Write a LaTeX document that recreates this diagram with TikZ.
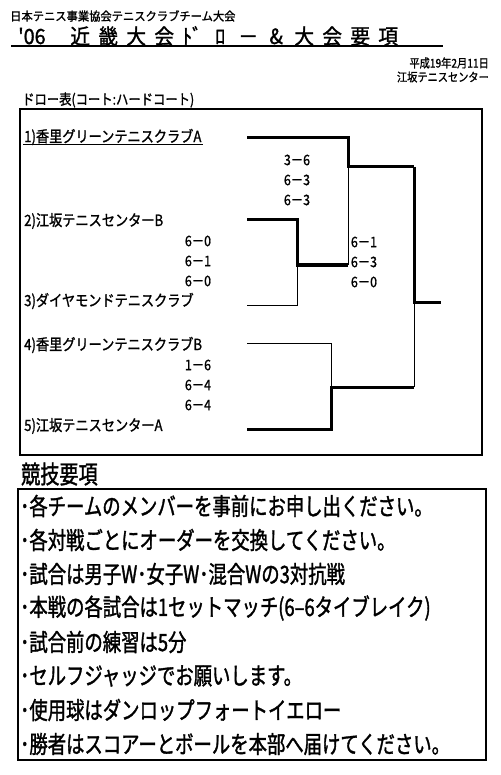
\documentclass[tikz,border=0pt]{standalone}
\usepackage{fontspec}
\setmainfont{Noto Sans CJK JP}
\newfontfamily\jpn[FakeStretch=0.94,FakeBold=1.4]{Noto Sans CJK JP}
\newfontfamily\jpc[FakeStretch=0.85,FakeBold=1.2]{Noto Sans CJK JP}
\newfontfamily\jpr[FakeStretch=0.765,FakeBold=1.4]{Noto Sans CJK JP}
\newcommand{\tc}[1]{\makebox[28pt]{#1}}

\tikzset{
  win/.style={line width=3pt},
  lose/.style={line width=1pt},
  team/.style={anchor=west, inner sep=1pt, font=\jpc\fontsize{15.5}{16}\selectfont},
  score/.style={inner sep=0pt, align=center, font=\jpc\fontsize{14.5}{20}\selectfont},
  rule/.style={anchor=west, inner sep=0pt, font=\jpr\fontsize{24}{26}\selectfont},
}

\begin{document}
\begin{tikzpicture}[x=1pt,y=-1pt]
\useasboundingbox (0,0) rectangle (500,775);

% Heading
\node[anchor=west, inner sep=0pt, font=\jpn\fontsize{12}{13}\selectfont] (org) at (10,16) {日本テニス事業協会テニスクラブチーム大会};
\node[anchor=west, inner sep=0pt, font=\jpn\fontsize{21}{22}\selectfont] (title) at (18,36)
  {\makebox[48pt][l]{'06}\tc{近}\tc{畿}\tc{大}\tc{会}\tc{ﾄﾞ}\tc{ﾛ}\tc{－}\tc{\&}\tc{大}\tc{会}\tc{要}\tc{項}};
\draw[line width=1.5pt] (11,46) -- (443,46);
\node[anchor=east, inner sep=0pt, font=\jpc\fontsize{12}{13}\selectfont] (date) at (489,63) {平成19年2月11日};
\node[anchor=east, inner sep=0pt, font=\jpc\fontsize{12}{13}\selectfont] (place) at (489,77) {江坂テニスセンター};

% Draw
\node[anchor=west, inner sep=0pt, font=\jpc\fontsize{14.5}{15}\selectfont] (drawtitle) at (22,100) {ドロー表(コート:ハードコート)};
\draw[line width=1.3pt] (20,109) rectangle (482,455);

\node[team] (n1) at (23,137) {1)香里グリーンテニスクラブA};
\draw[line width=1.2pt] ([yshift=-2.5pt]n1.base west) -- ([yshift=-2.5pt]n1.base east);
\node[team] (n2) at (23,221) {2)江坂テニスセンターB};
\node[team] (n3) at (23,301) {3)ダイヤモンドテニスクラブ};
\node[team] (n4) at (23,345) {4)香里グリーンテニスクラブB};
\node[team] (n5) at (23,426) {5)江坂テニスセンターA};

% Bracket points
\coordinate (s1) at (247,138);
\coordinate (s2) at (247,220);
\coordinate (s3) at (247,305);
\coordinate (s4) at (247,343);
\coordinate (s5) at (247,429);
\coordinate (m23) at (297,265);
\coordinate (m45) at (331,387);
\coordinate (semi) at (348,167);
\coordinate (fin) at (414,302);
\coordinate (champ) at (441,302);

% 2 vs 3
\draw[win] (s2) -| (m23) -- (semi |- m23);
\draw[lose] (s3) -| (m23);
% 4 vs 5
\draw[lose] (s4) -| (m45);
\draw[win] (s5) -| (m45) -- (fin |- m45);
% 1 vs winner
\draw[win] (s1) -| (semi) -- (fin |- semi);
\draw[lose] (semi) -- (semi |- m23);
% final
\draw[win] (fin |- semi) -- (fin) -- (champ);
\draw[lose] (fin) -- (fin |- m45);

% Scores
\node[score] (sc1) at (297,180) {3－6\\6－3\\6－3};
\node[score] (sc23) at (198,261) {6－0\\6－1\\6－0};
\node[score] (sc2) at (364,262) {6－1\\6－3\\6－0};
\node[score] (sc45) at (198,385) {1－6\\6－4\\6－4};

% Rules
\node[anchor=west, inner sep=0pt, font=\jpr\fontsize{25}{26}\selectfont] (rtitle) at (21,474) {競技要項};
\draw[line width=1.6pt] (18,489) rectangle (486,760);
\node[rule] (r1) at (20,506) {･各チームのメンバーを事前にお申し出ください。};
\node[rule] (r2) at (20,540) {･各対戦ごとにオーダーを交換してください。};
\node[rule] (r3) at (20,574) {･試合は男子W･女子W･混合Wの3対抗戦};
\node[rule] (r4) at (20,608) {･本戦の各試合は1セットマッチ(6–6タイブレイク)};
\node[rule] (r5) at (20,642) {･試合前の練習は5分};
\node[rule] (r6) at (20,676) {･セルフジャッジでお願いします。};
\node[rule] (r7) at (20,710) {･使用球はダンロップフォートイエロー};
\node[rule] (r8) at (20,744) {･勝者はスコアーとボールを本部へ届けてください。};

\end{tikzpicture}
\end{document}
